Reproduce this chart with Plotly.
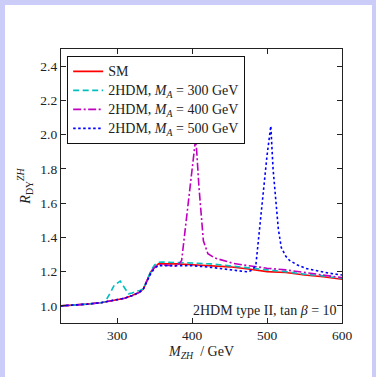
import plotly.graph_objects as go

# ---- data ----
sm_x = [225, 240, 260, 280, 290, 300, 310, 320, 330, 335, 340, 345, 350, 355, 360, 380, 400, 425, 450, 475, 500, 525, 550, 575, 600]
sm_y = [1.0, 1.003, 1.01, 1.02, 1.027, 1.035, 1.045, 1.06, 1.08, 1.1, 1.15, 1.2, 1.225, 1.245, 1.245, 1.245, 1.24, 1.235, 1.228, 1.215, 1.2, 1.195, 1.18, 1.17, 1.155]

ma300_x = [225, 240, 260, 280, 284, 290, 296, 304, 310, 315, 320, 325, 330, 335, 340, 345, 350, 355, 360, 380, 400, 425, 450, 475, 500, 525, 550, 575, 600]
ma300_y = [1.0, 1.003, 1.01, 1.02, 1.025, 1.07, 1.12, 1.145, 1.1, 1.07, 1.075, 1.085, 1.09, 1.1, 1.15, 1.205, 1.24, 1.255, 1.256, 1.255, 1.25, 1.245, 1.235, 1.222, 1.21, 1.2, 1.185, 1.175, 1.16]

ma400_x = [225, 240, 260, 280, 290, 300, 310, 320, 330, 335, 340, 345, 350, 355, 360, 370, 380, 386, 395, 404.5, 406, 409, 415, 421, 430, 446, 455, 470, 490, 500, 525, 550, 575, 600]
ma400_y = [1.0, 1.003, 1.01, 1.02, 1.027, 1.035, 1.045, 1.06, 1.08, 1.1, 1.15, 1.2, 1.225, 1.24, 1.24, 1.235, 1.232, 1.265, 1.6, 1.97, 1.91, 1.7, 1.38, 1.305, 1.28, 1.258, 1.248, 1.238, 1.225, 1.22, 1.21, 1.195, 1.18, 1.165]

ma500_x = [225, 240, 260, 280, 290, 300, 310, 320, 330, 335, 340, 345, 350, 355, 360, 380, 400, 425, 450, 465, 475, 480, 485, 490, 495, 500, 505, 508, 512, 515, 519, 525, 530, 540, 552, 565, 584, 600]
ma500_y = [1.0, 1.003, 1.01, 1.02, 1.027, 1.035, 1.045, 1.06, 1.08, 1.1, 1.15, 1.19, 1.22, 1.235, 1.235, 1.235, 1.235, 1.225, 1.21, 1.2, 1.198, 1.21, 1.235, 1.45, 1.67, 1.88, 2.05, 1.8, 1.6, 1.45, 1.34, 1.29, 1.265, 1.24, 1.218, 1.205, 1.19, 1.18]

names = ["SM",
         "2HDM, <i>M</i><sub><i>A</i></sub> = 300 GeV",
         "2HDM, <i>M</i><sub><i>A</i></sub> = 400 GeV",
         "2HDM, <i>M</i><sub><i>A</i></sub> = 500 GeV"]

x_ticks = [300, 400, 500, 600]
y_ticks = [1.0, 1.2, 1.4, 1.6, 1.8, 2.0, 2.2, 2.4]

FONT = "Liberation Serif"
W, H = 376, 377
ML, MR, MT, MB = 61, 34, 49, 54

fig = go.Figure()
styles = [("#ff0000", "solid"), ("#00bfbf", "6px,3.5px"),
          ("#bf00bf", "8px,2.5px,2px,2.5px"), ("#0000ff", "2.5px,2.5px")]
for (xs, ys), name, (c, d) in zip([(sm_x, sm_y), (ma300_x, ma300_y), (ma400_x, ma400_y), (ma500_x, ma500_y)], names, styles):
    fig.add_trace(go.Scatter(x=xs, y=ys, mode="lines",
                             name='<span style="font-size:14px">' + name + '</span>',
                             line=dict(color=c, dash=d, width=1.6)))

pw = W - ML - MR
ph = H - MT - MB
def px_x(p):
    return (p - ML) / pw
def px_y(p):
    return 1 - (p - MT) / ph

fig.add_shape(type="rect", xref="paper", yref="paper",
              x0=px_x(5), x1=px_x(372), y0=px_y(5), y1=px_y(380),
              fillcolor="white", line=dict(width=0), layer="below")

axis_common = dict(showline=True, linecolor="#222222", linewidth=1.2, mirror="ticks",
                   ticks="inside", ticklen=5, tickcolor="#222222", showgrid=False,
                   zeroline=False, tickfont=dict(family=FONT, size=13.5, color="#222222"))

fig.update_layout(
    width=W, height=H,
    margin=dict(l=ML, r=MR, t=MT, b=MB),
    paper_bgcolor="#ccccf8", plot_bgcolor="white",
    font=dict(family=FONT, color="#222222"),
    xaxis=dict(range=[225, 600], tickvals=x_ticks, ticktext=[str(v) for v in x_ticks],
               title=dict(text="<i>M</i><sub><i>ZH</i></sub>  / GeV", font=dict(family=FONT, size=14), standoff=3),
               **axis_common),
    yaxis=dict(range=[0.9, 2.5], tickvals=y_ticks, ticktext=[f"{v:.1f}" for v in y_ticks],
               title=dict(text="<i>R</i><sub>DY</sub><sup><i>ZH</i></sup>", font=dict(family=FONT, size=14), standoff=6),
               **axis_common),
    legend=dict(x=0.022, y=0.975, xanchor="left", yanchor="top",
                bordercolor="#111111", borderwidth=1, bgcolor="white",
                font=dict(family=FONT, size=11, color="#222222"),
                tracegroupgap=0, itemwidth=30),
    showlegend=True,
)

fig.add_annotation(x=0.99, y=0.012, xref="paper", yref="paper", xanchor="right", yanchor="bottom",
                   text="2HDM type II, tan <i>β</i> = 10", showarrow=False,
                   font=dict(family=FONT, size=14, color="#222222"))

fig.write_html("out.html")
